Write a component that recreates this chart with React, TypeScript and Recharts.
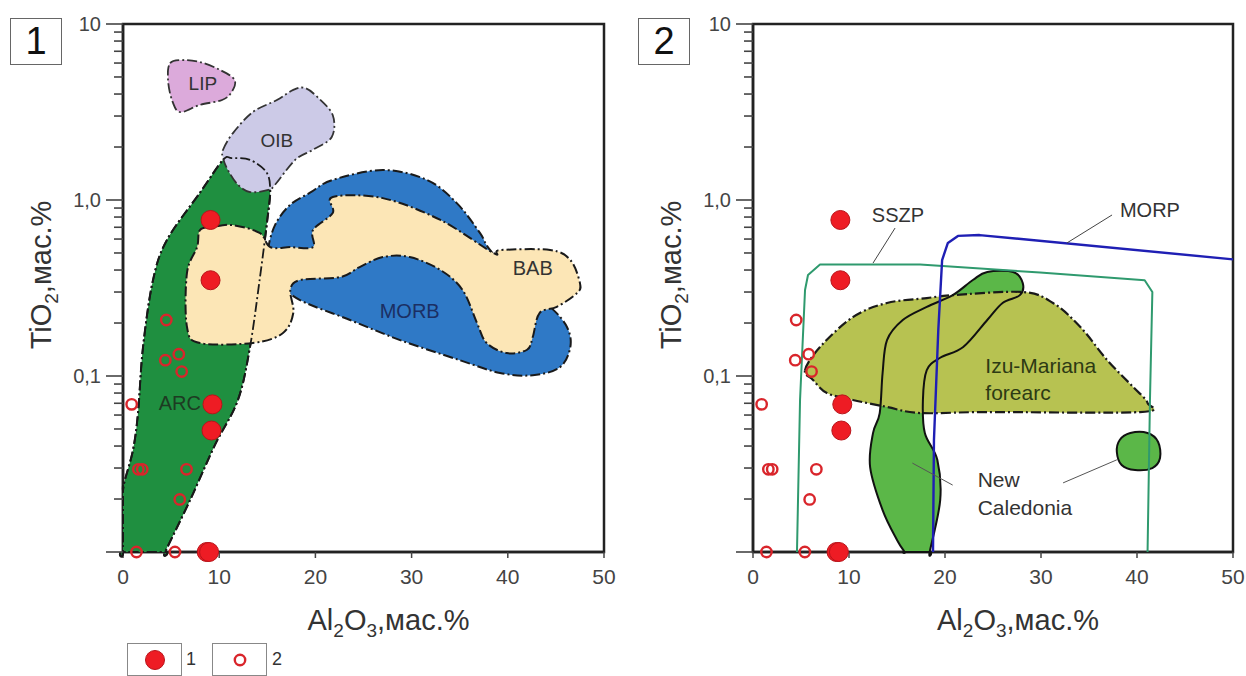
import React from 'react';
import { ScatterChart, Scatter, XAxis, YAxis, ReferenceArea, Label, Legend } from 'recharts';

type P = [number, number];

// ---------- axes ----------
const xTicks = [0, 10, 20, 30, 40, 50];
const yMajorTicks = [0.01, 0.1, 1, 10];
const yMajorLabels = ['', '0,1', '1,0', '10'];
const yMinorTicks = [0.02, 0.03, 0.04, 0.05, 0.06, 0.07, 0.08, 0.09, 0.2, 0.3, 0.4, 0.5, 0.6, 0.7, 0.8, 0.9, 2, 3, 4, 5, 6, 7, 8, 9];

// ---------- samples (Al2O3, TiO2) ----------
const group1Al = [9.1, 9.1, 9.3, 9.2, 8.7, 8.95];
const group1Ti = [0.77, 0.35, 0.069, 0.049, 0.01, 0.01];
const group2Al = [0.9, 4.5, 4.4, 5.8, 6.1, 1.6, 2.0, 6.6, 5.9, 1.4, 5.4];
const group2Ti = [0.069, 0.208, 0.123, 0.133, 0.106, 0.0295, 0.0295, 0.0295, 0.0199, 0.01, 0.01];

// ---------- panel 1 fields ----------
const arcField: P[] = [[0, 0.01], [0, 0.01], [4.37, 0.01], [4.37, 0.01], [6.97, 0.0197], [9.56, 0.0406], [11.95, 0.0731], [13.2, 0.146], [14.2, 0.351], [15.0, 0.77], [15.3, 1.14], [14.9, 1.44], [13.2, 1.69], [11.3, 1.73], [10.4, 1.69], [8.0, 1.1], [4.57, 0.593], [3.12, 0.351], [2.08, 0.146], [1.56, 0.0616], [1.04, 0.038], [0.2, 0.0257], [0, 0.0225], [0, 0.0225]];
const oibField: P[] = [[10.4, 1.93], [11.43, 2.4], [13.5, 3.16], [16.0, 3.7], [17.7, 4.22], [18.9, 4.33], [20.2, 3.85], [21.8, 3.04], [21.7, 2.28], [19.75, 1.93], [17.9, 1.69], [15.8, 1.22], [15.1, 1.14], [13.2, 1.11], [11.95, 1.22], [10.9, 1.48], [10.4, 1.73]];
const lipField: P[] = [[4.89, 5.98], [6.24, 6.24], [8.0, 6.08], [10.1, 5.48], [11.6, 4.81], [11.3, 4.11], [10.3, 3.7], [8.0, 3.47], [5.93, 3.16], [5.09, 3.7], [4.68, 4.81]];
const morbField: P[] = [[15.07, 0.52], [15.8, 0.72], [17.36, 0.937], [19.44, 1.1], [21.8, 1.3], [27.0, 1.48], [31.6, 1.3], [34.7, 0.96], [37.1, 0.65], [38.15, 0.52], [41.3, 0.329], [44.4, 0.247], [46.15, 0.19], [46.5, 0.146], [45.4, 0.112], [42.6, 0.101], [39.2, 0.104], [35.0, 0.123], [28.8, 0.16], [23.6, 0.208], [18.4, 0.27], [16.3, 0.337], [15.3, 0.428]];
const babField: P[] = [[8.0, 0.675], [9.36, 0.703], [11.4, 0.72], [14.2, 0.65], [15.3, 0.54], [17.4, 0.54], [19.75, 0.54], [19.75, 0.675], [21.8, 0.843], [21.8, 1.04], [27.0, 1.025], [33.0, 0.77], [38.5, 0.5], [39.2, 0.52], [44.4, 0.52], [46.5, 0.456], [47.5, 0.337], [47.2, 0.296], [45.1, 0.247], [43.3, 0.228], [42.6, 0.167], [42.0, 0.141], [39.9, 0.135], [37.8, 0.154], [36.8, 0.2], [35.3, 0.308], [33.0, 0.4], [29.8, 0.474], [27.0, 0.474], [24.6, 0.416], [22.6, 0.365], [18.4, 0.351], [17.4, 0.308], [17.7, 0.228], [16.6, 0.175], [13.5, 0.154], [8.0, 0.154], [6.65, 0.19], [6.65, 0.385], [7.7, 0.54]];
const panel1Labels = [
  { x: 8.3, y: 4.62, text: 'LIP' },
  { x: 16.0, y: 2.19, text: 'OIB' },
  { x: 29.8, y: 0.235, text: 'MORB' },
  { x: 42.6, y: 0.411, text: 'BAB' },
  { x: 5.9, y: 0.0703, text: 'ARC' },
];

// ---------- panel 2 fields ----------
const sszpBoundary: P[] = [[4.58, 0.01], [4.9, 0.0731], [5.42, 0.308], [5.73, 0.375], [6.98, 0.43], [17.4, 0.43], [29.9, 0.387], [40.8, 0.35], [41.6, 0.3], [41.35, 0.0731], [41.1, 0.01]];
const morpBoundary: P[] = [[18.75, 0.01], [18.85, 0.0433], [19.3, 0.182], [19.7, 0.456], [20.3, 0.57], [21.35, 0.625], [23.6, 0.632], [50, 0.46]];
const izuField: P[] = [[5.42, 0.108], [6.98, 0.146], [10.4, 0.216], [13.96, 0.26], [18.1, 0.277], [20.8, 0.288], [28.1, 0.3], [31.25, 0.26], [34.1, 0.19], [36.9, 0.123], [39.6, 0.0866], [41.1, 0.0703], [40.3, 0.0624], [24.4, 0.0624], [17.4, 0.0616], [13.96, 0.0667], [10.4, 0.0731], [7.7, 0.08], [6.25, 0.095]];
const ncField: P[] = [[15.8, 0.01], [15.8, 0.01], [18.4, 0.01], [18.4, 0.01], [19.5, 0.0197], [19.2, 0.0334], [17.9, 0.0474], [17.7, 0.0731], [18.1, 0.108], [19.5, 0.127], [21.9, 0.146], [24.4, 0.208], [26.0, 0.26], [27.8, 0.288], [28.1, 0.337], [27.1, 0.39], [24.4, 0.39], [22.9, 0.351], [20.8, 0.288], [18.1, 0.247], [15.6, 0.208], [13.96, 0.16], [13.5, 0.104], [13.2, 0.0616], [12.5, 0.0474], [12.2, 0.0304], [13.5, 0.0173], [15.0, 0.0117]];
const ncBlob: P[] = [[38.2, 0.0433], [39.3, 0.0474], [41.1, 0.0474], [42.2, 0.0422], [42.4, 0.0342], [41.6, 0.03], [39.8, 0.0292], [38.4, 0.0312], [37.9, 0.037]];
const sszpLeader: P[] = [[14.8, 0.693], [12.5, 0.438]];
const morpLeader: P[] = [[37.4, 0.822], [32.7, 0.57]];
const ncLeaderA: P[] = [[20.8, 0.024], [16.6, 0.032]];
const ncLeaderB: P[] = [[32.3, 0.0247], [37.9, 0.0334]];
const panel2Labels = [
  { x: 15.1, y: 0.822, text: 'SSZP' },
  { x: 41.35, y: 0.877, text: 'MORP' },
  { x: 24.2, y: 0.115, text: 'Izu-Mariana' },
  { x: 24.2, y: 0.081, text: 'forearc' },
  { x: 23.4, y: 0.0257, text: 'New' },
  { x: 23.4, y: 0.018, text: 'Caledonia' },
];

// ---------- styles ----------
const FONT = '"Liberation Sans", Arial, Helvetica, sans-serif';
const labelStyle: Record<string, { anchor: string; color: string; size: number }> = {
  LIP: { anchor: 'middle', color: '#333', size: 19 },
  OIB: { anchor: 'middle', color: '#333', size: 19 },
  MORB: { anchor: 'middle', color: '#1b2f63', size: 20 },
  BAB: { anchor: 'middle', color: '#333', size: 20 },
  ARC: { anchor: 'middle', color: '#1d3b22', size: 20 },
  SSZP: { anchor: 'middle', color: '#333', size: 20 },
  MORP: { anchor: 'middle', color: '#333', size: 20 },
  'Izu-Mariana': { anchor: 'start', color: '#2d3a14', size: 21 },
  forearc: { anchor: 'start', color: '#2d3a14', size: 21 },
  New: { anchor: 'start', color: '#333', size: 21 },
  Caledonia: { anchor: 'start', color: '#333', size: 21 },
};
const DASH = '10 3 2 3';

const toPts = (arr: P[]) => arr.map(([x, y]) => ({ x, y }));
const toSamples = (al: number[], ti: number[]) => al.map((x, i) => ({ x, y: ti[i] }));

type XY = { x: number; y: number };
const smoothClosed = (pts: XY[]) => {
  const n = pts.length;
  let d = `M${pts[0].x},${pts[0].y}`;
  for (let i = 0; i < n; i++) {
    const p0 = pts[(i - 1 + n) % n], p1 = pts[i], p2 = pts[(i + 1) % n], p3 = pts[(i + 2) % n];
    const c1x = p1.x + (p2.x - p0.x) / 6, c1y = p1.y + (p2.y - p0.y) / 6;
    const c2x = p2.x - (p3.x - p1.x) / 6, c2y = p2.y - (p3.y - p1.y) / 6;
    d += `C${c1x},${c1y} ${c2x},${c2y} ${p2.x},${p2.y}`;
  }
  return d + 'Z';
};
const linearOpen = (pts: XY[]) => pts.map((p, i) => `${i ? 'L' : 'M'}${p.x},${p.y}`).join('');

const NoShape = () => <g />;

const region = (key: string, data: P[], fill: string, stroke: string, dash: string | undefined, width: number, kind: 'closed' | 'open') => (
  <Scatter
    key={key}
    data={toPts(data)}
    isAnimationActive={false}
    shape={NoShape}
    legendType="none"
    lineType="joint"
    line={(p: any) => (
      <path
        d={kind === 'closed' ? smoothClosed(p.points) : linearOpen(p.points)}
        fill={fill}
        stroke={stroke}
        strokeWidth={width}
        strokeDasharray={dash}
        strokeLinejoin="round"
        strokeLinecap="butt"
      />
    )}
  />
);

const labels = (key: string, data: { x: number; y: number; text: string }[]) => (
  <Scatter
    key={key}
    data={data}
    isAnimationActive={false}
    legendType="none"
    shape={(p: any) => {
      const s = labelStyle[p.payload.text];
      return (
        <text x={p.cx} y={p.cy} textAnchor={s.anchor} dominantBaseline="central" fontSize={s.size} fill={s.color} fontFamily={FONT}>
          {p.payload.text}
        </text>
      );
    }}
  />
);

const samples = (key: string) => [
  <Scatter
    key={key + 'o'}
    data={toSamples(group2Al, group2Ti)}
    isAnimationActive={false}
    legendType="none"
    shape={(p: any) => <circle cx={p.cx} cy={p.cy} r={5.2} fill="none" stroke="#d9252b" strokeWidth={2.4} />}
  />,
  <Scatter
    key={key + 'f'}
    data={toSamples(group1Al, group1Ti)}
    isAnimationActive={false}
    legendType="none"
    shape={(p: any) => <circle cx={p.cx} cy={p.cy} r={9.5} fill="#ee1c24" stroke="#b8141a" strokeWidth={1} />}
  />,
];

const YTick = (props: any) => {
  const { x, y, payload } = props;
  const idx = yMajorTicks.indexOf(payload.value);
  const major = idx >= 0;
  return (
    <g>
      <line x1={x - (major ? 17 : 9)} x2={x} y1={y} y2={y} stroke="#444" strokeWidth={1.6} />
      {major && yMajorLabels[idx] ? (
        <text x={x - 22} y={y} textAnchor="end" dominantBaseline="central" fontSize={20} fill="#444" fontFamily={FONT}>
          {yMajorLabels[idx]}
        </text>
      ) : null}
    </g>
  );
};

const XTitle = (props: any) => {
  const vb = props.viewBox;
  return (
    <text x={vb.x + vb.width / 2 + 25} y={vb.y + 78} textAnchor="middle" fontSize={29} fill="#333" fontFamily={FONT}>
      Al<tspan dy={7} fontSize={19}>2</tspan>
      <tspan dy={-7}>O</tspan>
      <tspan dy={7} fontSize={19}>3</tspan>
      <tspan dy={-7}>,мас.%</tspan>
    </text>
  );
};

const YTitle = (props: any) => {
  const vb = props.viewBox;
  const cx = vb.x - 12;
  const cy = vb.y + vb.height / 2 - 13;
  return (
    <text x={cx} y={cy} transform={`rotate(-90 ${cx} ${cy})`} textAnchor="middle" fontSize={29} fill="#333" fontFamily={FONT}>
      TiO<tspan dy={7} fontSize={19}>2</tspan>
      <tspan dy={-7}>,мас.%</tspan>
    </text>
  );
};

const axes = () => [
  <XAxis
    key="x"
    type="number"
    dataKey="x"
    domain={[0, 50]}
    ticks={xTicks}
    interval={0}
    height={40}
    tickSize={6}
    tickMargin={11}
    axisLine={{ stroke: '#222', strokeWidth: 2.5 }}
    tickLine={{ stroke: '#444', strokeWidth: 1.5 }}
    tick={{ fontSize: 21, fill: '#444', fontFamily: FONT }}
    label={<Label content={XTitle} />}
  />,
  <YAxis
    key="y"
    type="number"
    dataKey="y"
    scale="log"
    domain={[0.01, 10]}
    ticks={[...yMajorTicks, ...yMinorTicks]}
    interval={0}
    width={60}
    tickSize={0}
    tickMargin={0}
    tickLine={false}
    axisLine={{ stroke: '#222', strokeWidth: 2.5 }}
    tick={(p: any) => <YTick {...p} />}
    label={<Label content={YTitle} />}
  />,
];

const frame = () => (
  <ReferenceArea key="frame" x1={0} x2={50} y1={0.01} y2={10} fill="none" fillOpacity={0} stroke="#222" strokeWidth={2.5} ifOverflow="visible" />
);

const LegendContent = () => (
  <div style={{ display: 'flex', alignItems: 'center', height: 33, fontFamily: FONT, fontSize: 18, color: '#333' }}>
    <div style={{ width: 55, height: 33, boxSizing: 'border-box', border: '1.5px solid #888', display: 'flex', alignItems: 'center', justifyContent: 'center' }}>
      <svg width="22" height="22"><circle cx="11" cy="11" r="9.5" fill="#ee1c24" stroke="#b8141a" /></svg>
    </div>
    <span style={{ display: 'inline-block', width: 30, paddingLeft: 4, boxSizing: 'border-box' }}>1</span>
    <div style={{ width: 55, height: 33, boxSizing: 'border-box', border: '1.5px solid #888', display: 'flex', alignItems: 'center', justifyContent: 'center' }}>
      <svg width="16" height="16"><circle cx="8" cy="8" r="5.2" fill="none" stroke="#d9252b" strokeWidth="2.4" /></svg>
    </div>
    <span style={{ display: 'inline-block', paddingLeft: 5 }}>2</span>
  </div>
);

const panelBox = (left: number, text: string) => (
  <div
    style={{
      position: 'absolute', left, top: 18, width: 52, height: 47, boxSizing: 'border-box',
      border: '1.5px solid #666', display: 'flex', alignItems: 'center', justifyContent: 'center',
      fontSize: 38, fontFamily: FONT, color: '#111', background: '#fff',
    }}
  >
    {text}
  </div>
);

export default function App() {
  return (
    <div style={{ position: 'absolute', left: 0, top: 0, width: 1246, height: 676, background: '#fff', fontFamily: FONT, overflow: 'hidden' }}>
      <div style={{ position: 'absolute', left: 0, top: 0 }}>
        <ScatterChart width={620} height={676} margin={{ top: 24, right: 16, bottom: 51, left: 63 }}>
          {axes()}
          {region('arc', arcField, '#1f8f40', '#1a1a1a', DASH, 2, 'closed')}
          {region('lip', lipField, '#dcaadb', '#333', DASH, 1.8, 'closed')}
          {region('oib', oibField, '#cccae7', '#333', DASH, 1.8, 'closed')}
          {region('morb', morbField, '#2f79c6', '#1a1a1a', DASH, 2, 'closed')}
          {region('bab', babField, '#fce6b6', '#1a1a1a', DASH, 2, 'closed')}
          {region('arcEdge', arcField, 'none', '#1a1a1a', DASH, 1.8, 'closed')}
          {labels('lab1', panel1Labels)}
          {frame()}
          {samples('s1')}
          <Legend
            verticalAlign="bottom"
            content={<LegendContent />}
            wrapperStyle={{ left: 127, top: 643, bottom: 'auto', width: 'auto' }}
          />
        </ScatterChart>
      </div>
      <div style={{ position: 'absolute', left: 630, top: 0 }}>
        <ScatterChart width={616} height={676} margin={{ top: 24, right: 13, bottom: 84, left: 63 }}>
          {axes()}
          {region('nc', ncField, '#5bb748', 'none', undefined, 0, 'closed')}
          {region('izu', izuField, '#b7c251', '#1a1a1a', DASH, 2.2, 'closed')}
          {region('ncEdge', ncField, 'none', '#111', undefined, 2, 'closed')}
          {region('ncBlob', ncBlob, '#5bb748', '#111', undefined, 2, 'closed')}
          {region('sszp', sszpBoundary, 'none', '#2f9a6e', undefined, 2, 'open')}
          {region('morp', morpBoundary, 'none', '#1f1fb4', undefined, 2.4, 'open')}
          {region('l1', sszpLeader, 'none', '#444', undefined, 1, 'open')}
          {region('l2', morpLeader, 'none', '#444', undefined, 1, 'open')}
          {region('l3', ncLeaderA, 'none', '#555', undefined, 1, 'open')}
          {region('l4', ncLeaderB, 'none', '#555', undefined, 1, 'open')}
          {labels('lab2', panel2Labels)}
          {frame()}
          {samples('s2')}
        </ScatterChart>
      </div>
      {panelBox(10, '1')}
      {panelBox(638, '2')}
    </div>
  );
}
